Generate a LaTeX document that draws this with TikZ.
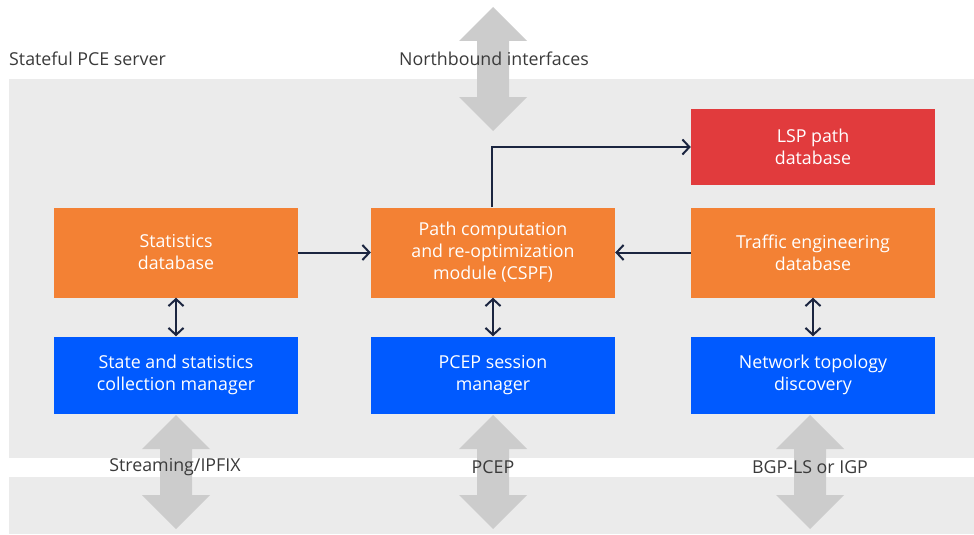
\documentclass[tikz,border=0pt]{standalone}
\usepackage{fontspec}
\setmainfont{Open Sans}
\usetikzlibrary{arrows.meta}
\definecolor{panel}{HTML}{EBEBEB}
\definecolor{bigarrow}{HTML}{CCCCCC}
\definecolor{orangebox}{HTML}{F38134}
\definecolor{redbox}{HTML}{E13B3D}
\definecolor{bluebox}{HTML}{005AFF}
\definecolor{wire}{HTML}{1B2540}
\definecolor{label}{HTML}{3A3A3A}
\tikzset{
  box/.style={minimum width=244pt, inner sep=0pt, align=center, text=white,
    font=\fontsize{17.8}{22}\selectfont},
  obox/.style={box, fill=orangebox, minimum height=90pt},
  rbox/.style={box, fill=redbox, minimum height=76pt},
  bbox/.style={box, fill=bluebox, minimum height=77pt},
  caption/.style={text=label, font=\fontsize{17.8}{22}\selectfont, inner sep=0pt},
  wireline/.style={draw=wire, line width=2pt},
  barb/.tip={Straight Barb[length=7pt, width=15pt, line width=2pt]}
}
% grey double-headed arrow: centre x, top tip y, bottom tip y
\newcommand{\fatarrow}[3]{%
  \fill[bigarrow] (#1,#2) -- (#1+34,#2+34) -- (#1+16,#2+34) -- (#1+16,#3-34)
    -- (#1+34,#3-34) -- (#1,#3) -- (#1-34,#3-34) -- (#1-16,#3-34)
    -- (#1-16,#2+34) -- (#1-34,#2+34) -- cycle;}
\begin{document}
\begin{tikzpicture}[x=1pt, y=-1pt]
  \useasboundingbox (0,0) rectangle (974,535);
  % backgrounds
  \fill[panel] (9,79) rectangle (974,458);
  \fill[panel] (9,477) rectangle (974,534);

  % external interface arrows
  \fatarrow{493}{7}{131}
  \fatarrow{176}{415}{529}
  \fatarrow{493}{415}{529}
  \fatarrow{810}{415}{529}

  % captions
  \node[caption, anchor=west] (srv) at (9,59) {Stateful PCE server};
  \node[caption] (nbi) at (494,59) {Northbound interfaces};
  \node[caption] (ipfix) at (175,467) {Streaming/IPFIX};
  \node[caption] (pcepl) at (493,467) {PCEP};
  \node[caption] (bgp) at (810,467) {BGP-LS or IGP};

  % functional blocks
  \node[rbox] (lsp) at (813,147) {LSP path\\database};
  \node[obox] (stat) at (176,252.5) {Statistics\\database};
  \node[obox] (cspf) at (493,252.5) {Path computation\\and re-optimization\\module (CSPF)};
  \node[obox] (ted) at (813,252.5) {Traffic engineering\\database};
  \node[bbox] (sscm) at (176,375) {State and statistics\\collection manager};
  \node[bbox] (pcep) at (493,375) {PCEP session\\manager};
  \node[bbox] (ntd) at (813,375) {Network topology\\discovery};

  % internal connectors
  \draw[wireline, -{barb}] (stat) -- (cspf);
  \draw[wireline, -{barb}] (ted) -- (cspf);
  \draw[wireline, -{barb}] ([xshift=-1pt]cspf.north) |- (lsp.west);
  \draw[wireline, {barb}-{barb}] (stat) -- (sscm);
  \draw[wireline, {barb}-{barb}] (cspf) -- (pcep);
  \draw[wireline, {barb}-{barb}] (ted) -- (ntd);
\end{tikzpicture}
\end{document}
